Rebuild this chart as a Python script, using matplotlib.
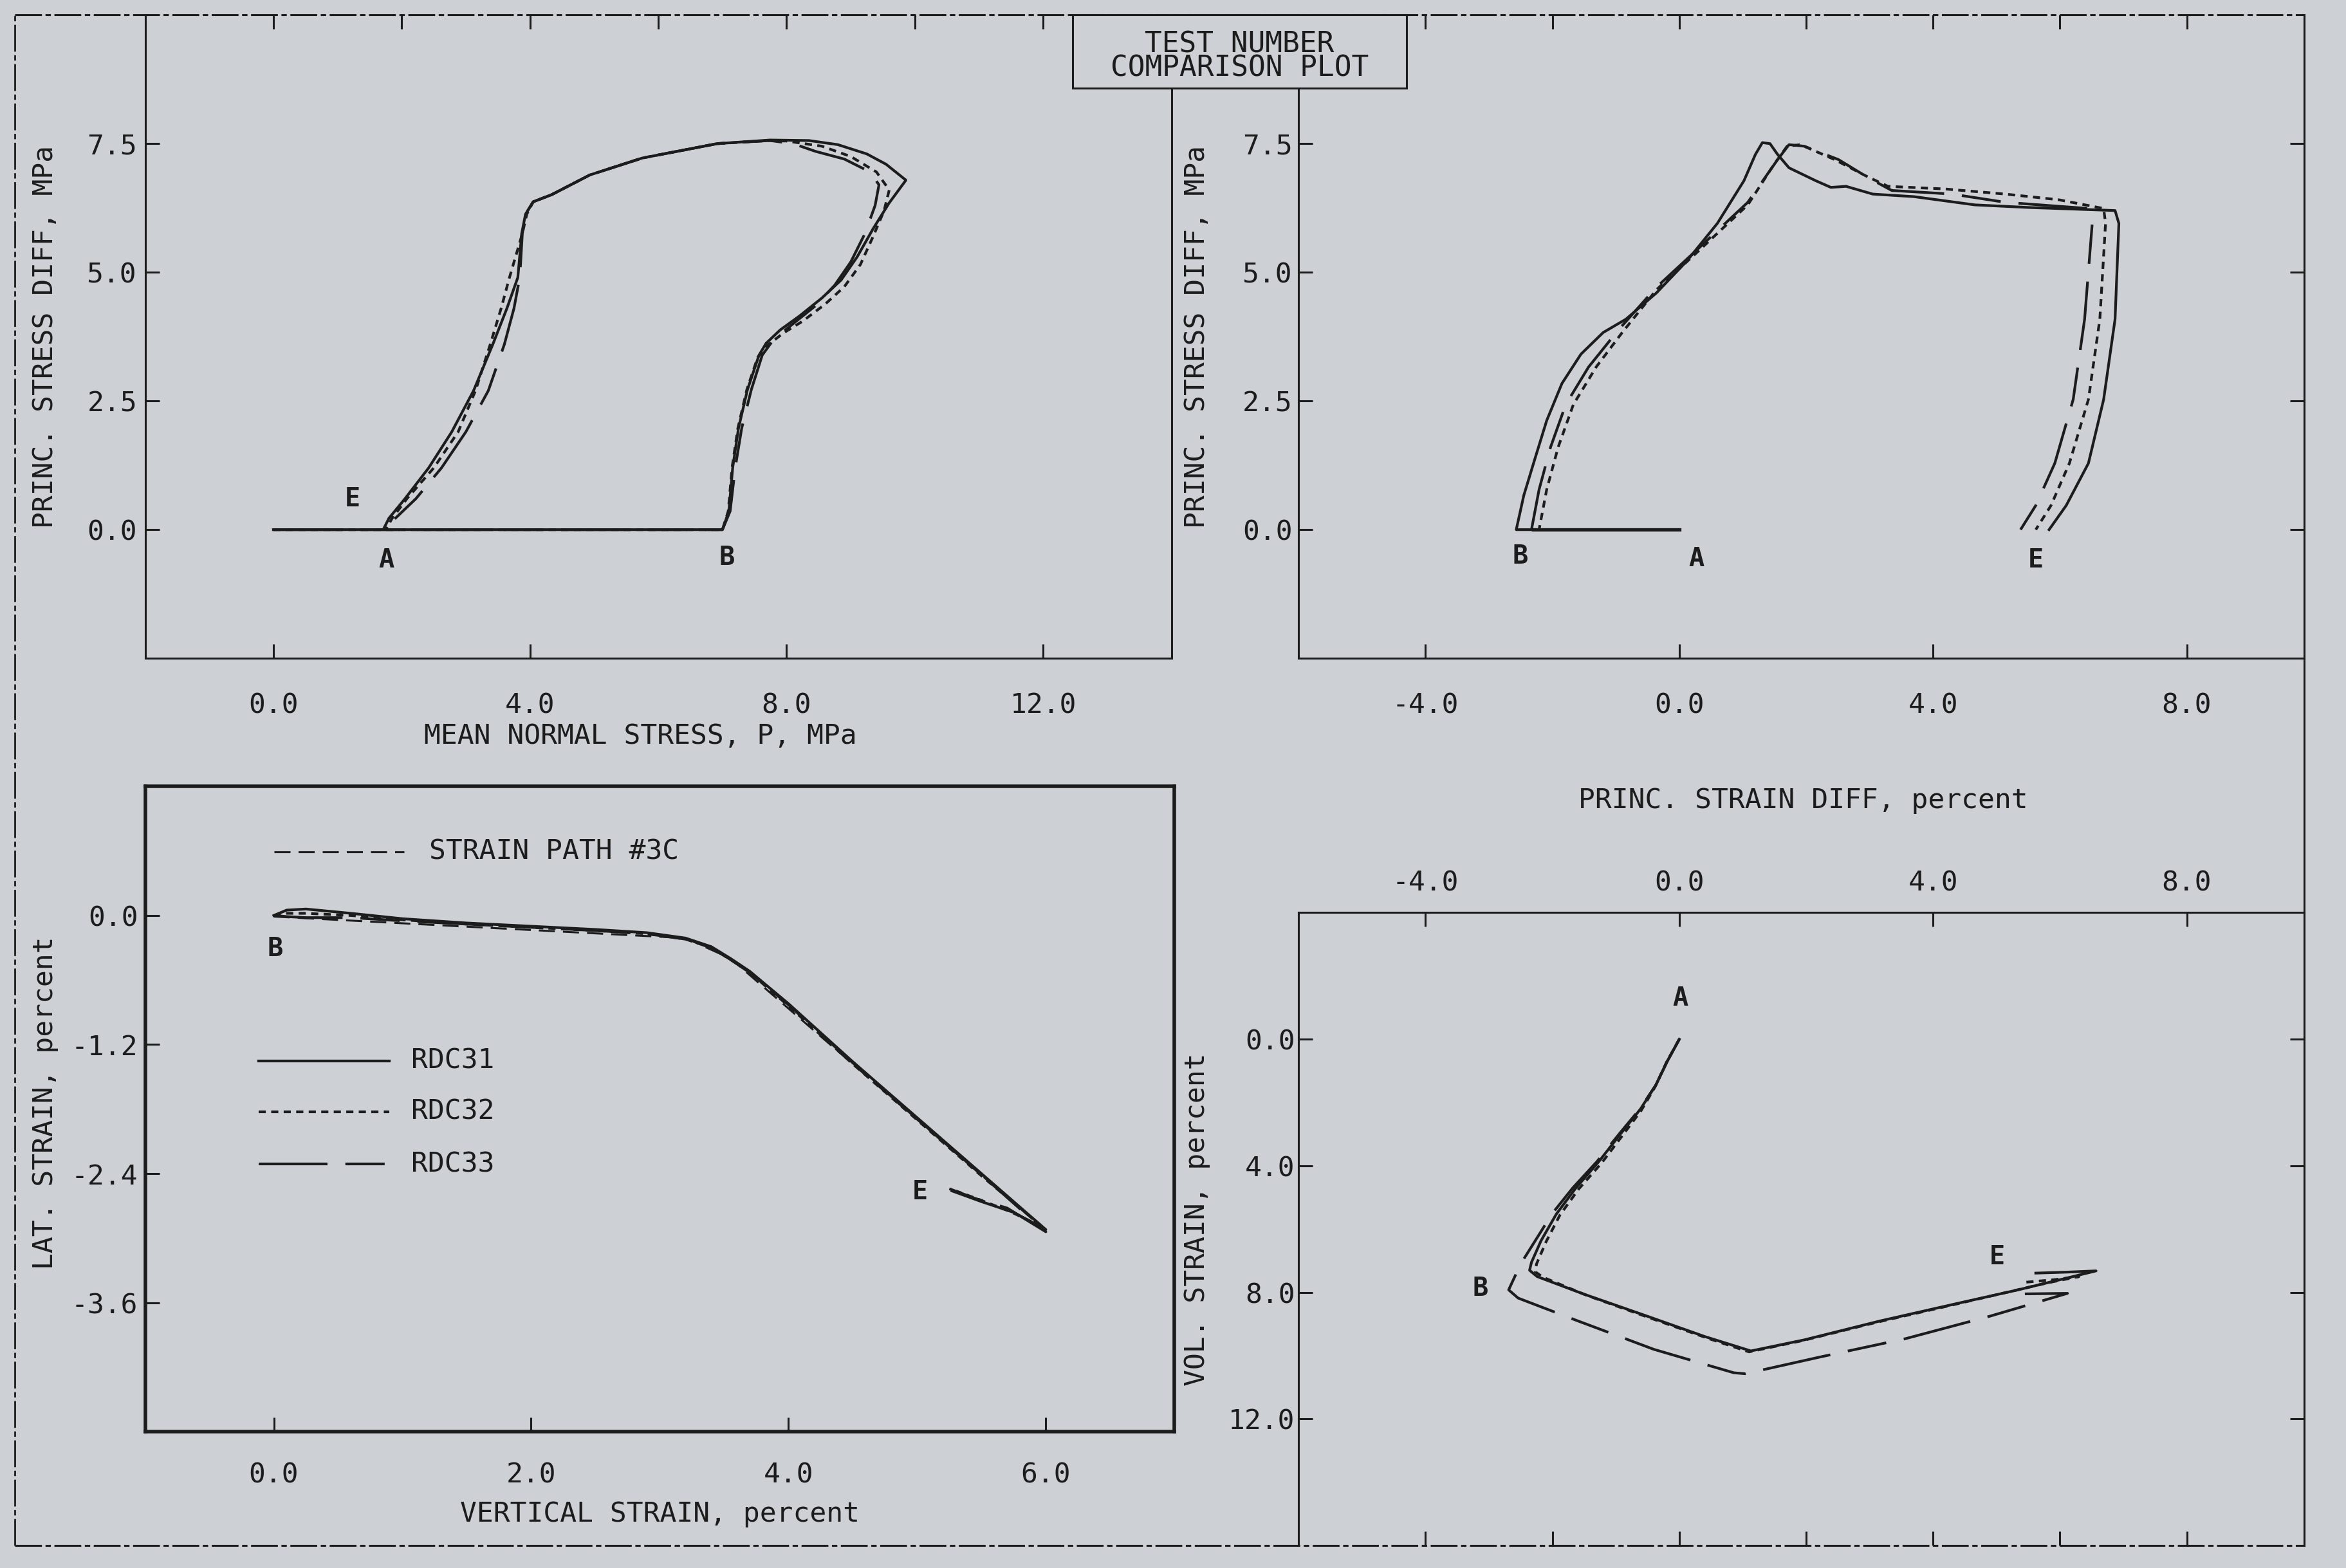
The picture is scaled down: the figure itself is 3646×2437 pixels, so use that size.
import matplotlib
matplotlib.use("Agg")
import matplotlib.pyplot as plt
import matplotlib.ticker as ticker
from matplotlib.lines import Line2D
from matplotlib.patches import Rectangle

plt.rcParams["font.family"] = "DejaVu Sans Mono"
plt.rcParams["lines.scale_dashes"] = False

BG = "#cdd0d4"
INK = "#1c1c1c"

# ---- data ----
series = ["RDC31", "RDC32", "RDC33"]

# mean normal stress P (MPa) vs principal stress difference (MPa)
p_31 = [0.0, 7.0, 7.1, 7.16, 7.25, 7.39, 7.57, 7.68, 7.9, 8.2, 8.55, 8.85, 9.1, 9.35, 9.6, 9.86, 9.55, 9.25, 8.8, 8.35,
        7.74, 6.92, 5.75, 4.93, 4.34, 4.05, 3.93, 3.87, 3.81, 3.64, 3.42, 3.12, 2.78, 2.42, 2.05, 1.8, 1.72]
q_31 = [0.0, 0.0, 0.36, 1.21, 1.97, 2.72, 3.39, 3.62, 3.88, 4.15, 4.5, 4.85, 5.3, 5.85, 6.35, 6.79, 7.1, 7.3, 7.48, 7.56,
        7.57, 7.5, 7.22, 6.89, 6.51, 6.37, 6.13, 5.75, 4.9, 4.3, 3.6, 2.7, 1.9, 1.2, 0.6, 0.22, 0.02]
p_32 = [0.0, 7.0, 7.09, 7.15, 7.24, 7.38, 7.55, 7.7, 7.95, 8.25, 8.6, 8.9, 9.15, 9.35, 9.52, 9.6, 9.4, 9.0, 8.55, 8.0,
        7.74, 6.92, 5.75, 4.93, 4.34, 4.05, 3.95, 3.88, 3.68, 3.55, 3.38, 3.15, 2.88, 2.5, 2.08, 1.85, 1.76]
q_32 = [0.0, 0.0, 0.36, 1.21, 1.97, 2.72, 3.35, 3.58, 3.82, 4.05, 4.38, 4.72, 5.15, 5.7, 6.2, 6.6, 6.95, 7.25, 7.45, 7.55,
        7.56, 7.5, 7.22, 6.89, 6.51, 6.37, 6.13, 5.75, 4.9, 4.3, 3.6, 2.7, 1.9, 1.2, 0.6, 0.22, 0.02]
p_33 = [0.0, 7.0, 7.12, 7.2, 7.3, 7.45, 7.62, 7.8, 8.1, 8.45, 8.75, 9.0, 9.22, 9.38, 9.44, 9.3, 8.9, 8.45, 8.1, 7.74,
        6.92, 5.75, 4.93, 4.34, 4.05, 3.93, 3.88, 3.84, 3.75, 3.6, 3.35, 3.0, 2.62, 2.22, 1.9, 1.74]
q_33 = [0.0, 0.0, 0.36, 1.21, 1.97, 2.72, 3.39, 3.7, 4.0, 4.35, 4.75, 5.2, 5.75, 6.3, 6.7, 6.95, 7.2, 7.35, 7.5, 7.56,
        7.5, 7.22, 6.89, 6.51, 6.37, 6.13, 5.75, 4.9, 4.3, 3.6, 2.7, 1.9, 1.2, 0.6, 0.22, 0.02]

# principal strain difference (%) vs principal stress difference (MPa)
sd_31 = [0.0, -2.57, -2.45, -2.27, -2.09, -1.85, -1.55, -1.2, -0.84, -0.36, 0.12, 0.6, 1.02, 1.2, 1.31, 1.43, 1.55, 1.73,
         2.15, 2.39, 2.63, 3.05, 3.7, 4.66, 5.5, 6.87, 6.93, 6.87, 6.69, 6.45, 6.1, 5.83]
qs_31 = [0.0, 0.0, 0.67, 1.4, 2.12, 2.84, 3.41, 3.83, 4.09, 4.6, 5.22, 5.95, 6.78, 7.29, 7.52, 7.5, 7.29, 7.03,
         6.78, 6.65, 6.67, 6.52, 6.47, 6.31, 6.26, 6.2, 5.95, 4.09, 2.53, 1.29, 0.47, 0.0]
sd_32 = [0.0, -2.21, -2.09, -1.91, -1.67, -1.31, -0.9, -0.36, 0.36, 1.08, 1.49, 1.7, 1.91, 2.45, 2.93, 3.29, 4.18,
         5.14, 5.98, 6.69, 6.72, 6.63, 6.45, 6.15, 5.86, 5.62]
qs_32 = [0.0, 0.0, 0.78, 1.6, 2.43, 3.16, 3.83, 4.66, 5.48, 6.31, 7.09, 7.45, 7.48, 7.19, 6.88, 6.67, 6.62,
         6.52, 6.41, 6.24, 5.95, 4.09, 2.53, 1.29, 0.47, 0.0]
sd_33 = [0.0, -2.33, -2.21, -2.03, -1.79, -1.43, -0.96, -0.36, 0.36, 1.08, 1.55, 1.73, 1.97, 2.51, 2.99, 3.35, 4.3,
         5.14, 6.45, 6.51, 6.39, 6.21, 5.92, 5.62, 5.38]
qs_33 = [0.0, 0.0, 0.78, 1.6, 2.43, 3.16, 3.88, 4.71, 5.53, 6.36, 7.19, 7.48, 7.45, 7.19, 6.83, 6.59, 6.52,
         6.36, 6.24, 5.95, 4.09, 2.53, 1.29, 0.47, 0.0]

# vertical strain (%) vs lateral strain (%)
vert_31 = [0.0, 0.1, 0.25, 0.6, 1.0, 1.5, 2.0, 2.5, 2.9, 3.2, 3.4, 3.55, 3.7, 4.0, 4.5, 5.0, 5.5, 6.0, 5.75, 5.5, 5.27]
lat_31 = [0.0, 0.05, 0.06, 0.02, -0.03, -0.07, -0.1, -0.13, -0.16, -0.21, -0.29, -0.4, -0.52, -0.82, -1.36, -1.88,
          -2.4, -2.92, -2.76, -2.66, -2.56]
vert_32 = [0.0, 0.1, 0.25, 0.6, 1.0, 1.5, 2.0, 2.5, 2.9, 3.2, 3.4, 3.55, 3.7, 4.0, 4.5, 5.0, 5.5, 5.98, 5.72, 5.48, 5.3]
lat_32 = [0.0, 0.02, 0.02, 0.0, -0.04, -0.08, -0.11, -0.14, -0.17, -0.22, -0.3, -0.41, -0.53, -0.84, -1.38, -1.9,
          -2.42, -2.9, -2.75, -2.64, -2.56]
vert_33 = [0.0, 0.1, 0.25, 0.6, 1.0, 1.5, 2.0, 2.5, 2.9, 3.2, 3.4, 3.55, 3.7, 4.0, 4.5, 5.0, 5.5, 6.0, 5.7, 5.45, 5.25]
lat_33 = [0.0, -0.01, -0.02, -0.02, -0.05, -0.08, -0.11, -0.14, -0.17, -0.22, -0.3, -0.41, -0.53, -0.83, -1.37,
          -1.89, -2.41, -2.94, -2.72, -2.63, -2.54]
path_vert = [0.0, 3.2, 3.55, 6.0]
path_lat = [-0.01, -0.21, -0.40, -2.93]

# principal strain difference (%) vs volumetric strain (%)
sv_31 = [0.0, -0.19, -0.37, -0.61, -0.91, -1.27, -1.63, -1.94, -2.18, -2.33, -2.36, -2.24, -1.51, -0.55, 0.41, 1.13,
         1.97, 3.17, 4.38, 5.34, 6.0, 6.57, 6.1, 5.62]
vol_31 = [0.0, 0.7, 1.45, 2.2, 2.95, 3.87, 4.7, 5.53, 6.37, 7.05, 7.3, 7.5, 8.05, 8.72, 9.4, 9.85,
          9.5, 8.9, 8.35, 7.92, 7.6, 7.32, 7.36, 7.39]
sv_32 = [0.0, -0.2, -0.38, -0.6, -0.88, -1.22, -1.58, -1.88, -2.1, -2.25, -2.27, -2.15, -1.45, -0.5, 0.45, 1.1,
         1.95, 3.1, 4.3, 5.2, 5.8, 6.3, 5.9, 5.45]
vol_32 = [0.0, 0.72, 1.5, 2.25, 3.0, 3.9, 4.72, 5.55, 6.4, 7.1, 7.35, 7.52, 8.1, 8.78, 9.45, 9.88,
          9.52, 8.95, 8.4, 7.98, 7.7, 7.5, 7.6, 7.68]
sv_33 = [0.0, -0.19, -0.37, -0.62, -0.93, -1.3, -1.68, -2.0, -2.25, -2.5, -2.69, -2.54, -1.6, -0.4, 0.86, 1.04,
         2.2, 3.57, 4.9, 6.12, 5.3]
vol_33 = [0.0, 0.7, 1.45, 2.2, 2.95, 3.87, 4.7, 5.5, 6.3, 7.1, 7.92, 8.18, 8.9, 9.8, 10.54, 10.57,
          10.05, 9.46, 8.75, 8.03, 8.05]

# line styles for each test (dash lengths in points)
line_styles = {"RDC31": "-", "RDC32": (0, (8, 6)), "RDC33": (0, (77, 20, 44, 20))}
path_style = (0, (18, 9))
LW = 3.0


def style_axes(ax, spine_lw=2.2):
    ax.set_facecolor(BG)
    for s in ax.spines.values():
        s.set_linewidth(spine_lw)
        s.set_color(INK)
    ax.tick_params(which="both", direction="in", length=16, width=2.2, color=INK,
                   labelsize=31, labelcolor=INK)
    ax.xaxis.set_major_formatter(ticker.FormatStrFormatter("%.1f"))
    ax.yaxis.set_major_formatter(ticker.FormatStrFormatter("%.1f"))


def place_labels(ax, xpos, ypos):
    if xpos is not None:
        ax.xaxis.set_label_coords(*xpos)
        ax.xaxis.label.set_verticalalignment("center")
    if ypos is not None:
        ax.yaxis.set_label_coords(*ypos)
        ax.yaxis.label.set_verticalalignment("center")


def point_label(ax, x, y, s):
    ax.text(x, y, s, fontsize=29, fontweight="bold", color=INK, ha="center", va="center")


fig = plt.figure(figsize=(36.46, 24.37), dpi=100)
fig.patch.set_facecolor(BG)

#create the four panels
ax_tl = fig.add_axes([0.06186, 0.58015, 0.4375, 0.41031])
ax_tr = fig.add_axes([0.55357, 0.58015, 0.42857, 0.41031])
ax_bl = fig.add_axes([0.06186, 0.08683, 0.43878, 0.41164])
ax_br = fig.add_axes([0.55357, 0.01431, 0.42857, 0.40363])

# ---- top left: stress path ----
style_axes(ax_tl)
for name, x, y in zip(series, [p_31, p_32, p_33], [q_31, q_32, q_33]):
    ax_tl.plot(x, y, color=INK, lw=LW, linestyle=line_styles[name])
ax_tl.set_xlim(-2, 14)
ax_tl.set_ylim(-2.5, 10)
ax_tl.set_xticks([0, 4, 8, 12])
ax_tl.set_xticks([2, 6, 10], minor=True)
ax_tl.set_yticks([0, 2.5, 5, 7.5])
ax_tl.tick_params(axis="x", which="major", top=True, bottom=True, pad=38)
ax_tl.tick_params(axis="x", which="minor", top=True, bottom=False)
ax_tl.tick_params(axis="y", left=True, right=False, pad=9)
ax_tl.spines["top"].set_visible(False)
ax_tl.set_xlabel("MEAN NORMAL STRESS, P, MPa", fontsize=31, color=INK)
ax_tl.set_ylabel("PRINC. STRESS DIFF, MPa", fontsize=31, color=INK)
place_labels(ax_tl, (0.4825, -0.121), (-0.0977, 0.5))
point_label(ax_tl, 1.23, 0.6, "E")
point_label(ax_tl, 1.76, -0.59, "A")
point_label(ax_tl, 7.07, -0.54, "B")

# ---- top right: stress difference vs strain difference ----
style_axes(ax_tr)
for name, x, y in zip(series, [sd_31, sd_32, sd_33], [qs_31, qs_32, qs_33]):
    ax_tr.plot(x, y, color=INK, lw=LW, linestyle=line_styles[name])
ax_tr.plot([0.0, -2.3], [0.0, 0.0], color=INK, lw=LW + 0.8)
ax_tr.set_xlim(-6, 9.85)
ax_tr.set_ylim(-2.5, 10)
ax_tr.set_xticks([-4, 0, 4, 8])
ax_tr.set_xticks([-2, 2, 6], minor=True)
ax_tr.set_yticks([0, 2.5, 5, 7.5])
ax_tr.tick_params(axis="x", which="major", top=True, bottom=True, pad=38)
ax_tr.tick_params(axis="x", which="minor", top=True, bottom=False)
ax_tr.tick_params(axis="y", left=True, right=True, pad=7)
ax_tr.spines["top"].set_visible(False)
ax_tr.set_xlabel("PRINC. STRAIN DIFF, percent", fontsize=31, color=INK)
ax_tr.set_ylabel("PRINC. STRESS DIFF, MPa", fontsize=31, color=INK)
place_labels(ax_tr, (0.5015, -0.2209), (-0.1012, 0.5))
point_label(ax_tr, -2.51, -0.52, "B")
point_label(ax_tr, 0.27, -0.57, "A")
point_label(ax_tr, 5.62, -0.59, "E")

# ---- bottom left: lateral vs vertical strain ----
style_axes(ax_bl, spine_lw=4)
ax_bl.plot(path_vert, path_lat, color=INK, lw=2.2, linestyle=path_style)
for name, x, y in zip(series, [vert_31, vert_32, vert_33], [lat_31, lat_32, lat_33]):
    ax_bl.plot(x, y, color=INK, lw=LW, linestyle=line_styles[name])
ax_bl.set_xlim(-1, 7)
ax_bl.set_ylim(-4.8, 1.2)
ax_bl.set_xticks([0, 2, 4, 6])
ax_bl.set_yticks([0, -1.2, -2.4, -3.6])
ax_bl.tick_params(axis="x", top=False, bottom=True, pad=33)
ax_bl.tick_params(axis="y", left=True, right=False, pad=8)
ax_bl.set_xlabel("VERTICAL STRAIN, percent", fontsize=31, color=INK)
ax_bl.set_ylabel("LAT. STRAIN, percent", fontsize=31, color=INK)
place_labels(ax_bl, (0.5, -0.1275), (-0.0974, 0.51))
point_label(ax_bl, 0.01, -0.31, "B")
point_label(ax_bl, 5.02, -2.57, "E")

#legend drawn by hand as in the original plotter output
ax_bl.plot([0.125, 0.2515], [0.899, 0.899], transform=ax_bl.transAxes, color=INK, lw=2.2, linestyle=path_style)
ax_bl.text(0.276, 0.899, "STRAIN PATH #3C", transform=ax_bl.transAxes, fontsize=31, color=INK, va="center")
for name, ypos in zip(series, [0.575, 0.496, 0.415]):
    ax_bl.plot([0.1105, 0.237], [ypos, ypos], transform=ax_bl.transAxes, color=INK, lw=LW,
               linestyle=line_styles[name])
    ax_bl.text(0.2587, ypos, name, transform=ax_bl.transAxes, fontsize=31, color=INK, va="center")

# ---- bottom right: volumetric strain vs strain difference ----
style_axes(ax_br)
for name, x, y in zip(series, [sv_31, sv_32, sv_33], [vol_31, vol_32, vol_33]):
    ax_br.plot(x, y, color=INK, lw=LW, linestyle=line_styles[name])
ax_br.set_xlim(-6, 9.85)
ax_br.set_ylim(16, -4)
ax_br.set_xticks([-4, 0, 4, 8])
ax_br.set_xticks([-2, 2, 6], minor=True)
ax_br.set_yticks([0, 4, 8, 12])
ax_br.tick_params(axis="x", which="major", top=True, bottom=True, labeltop=True, labelbottom=False, pad=18)
ax_br.tick_params(axis="x", which="minor", top=False, bottom=True)
ax_br.tick_params(axis="y", left=True, right=True, pad=4)
ax_br.spines["bottom"].set_visible(False)
ax_br.set_ylabel("VOL. STRAIN, percent", fontsize=31, color=INK)
place_labels(ax_br, None, (-0.1012, 0.515))
point_label(ax_br, 0.02, -1.3, "A")
point_label(ax_br, -3.14, 7.87, "B")
point_label(ax_br, 5.01, 6.87, "E")

# ---- page border ----
border_style = (0, (30, 4, 6, 4))
fig.add_artist(Line2D([0.0064, 0.9821], [0.9905, 0.9905], color=INK, lw=2.2, linestyle=border_style))
fig.add_artist(Line2D([0.0064, 0.9821], [0.01431, 0.01431], color=INK, lw=2.2, linestyle=border_style))
fig.add_artist(Line2D([0.0064, 0.0064], [0.01431, 0.9905], color=INK, lw=2.0, linestyle=border_style))
fig.add_artist(Line2D([0.9821, 0.9821], [0.01431, 0.9905], color=INK, lw=2.2))

#title box
fig.add_artist(Rectangle((0.4573, 0.9437), 0.1422, 0.0468, transform=fig.transFigure,
                         facecolor=BG, edgecolor=INK, lw=2.2, zorder=10))
fig.text(0.5284, 0.9718, "TEST NUMBER", ha="center", va="center", fontsize=32, color=INK, zorder=11)
fig.text(0.5284, 0.9563, "COMPARISON PLOT", ha="center", va="center", fontsize=32, color=INK, zorder=11)

fig.savefig("out.png", dpi=100, facecolor=BG)
